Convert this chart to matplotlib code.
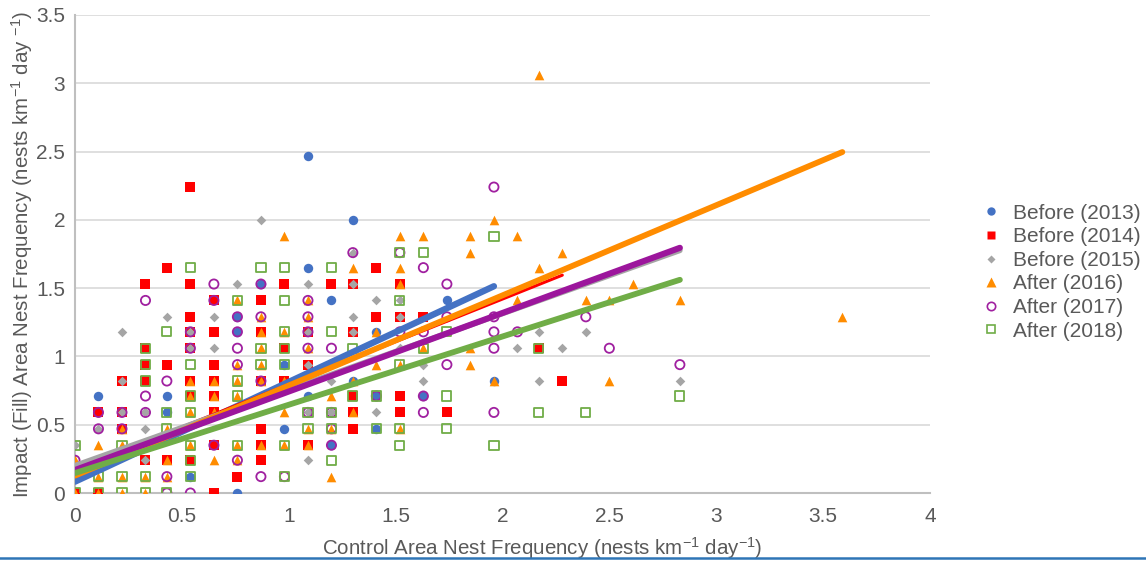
import matplotlib
matplotlib.use('Agg')
import matplotlib.pyplot as plt
from matplotlib.lines import Line2D

plt.rcParams['font.family'] = ['Liberation Sans', 'DejaVu Sans']
plt.rcParams['mathtext.fontset'] = 'custom'
plt.rcParams['mathtext.rm'] = 'Liberation Sans'
plt.rcParams['mathtext.it'] = 'Liberation Sans'

# data (x: control, y: impact), nests km-1 day-1
x_2013 = [0, 0.76, 0.54, 0.98, 0.11, 0.43, 0.11, 0.43, 0.76, 0.76, 0.87, 1.09, 1.09, 1.3, 1.2, 1.74,
          1.41, 0.98, 1.3, 1.09, 1.41, 1.63, 1.41, 1.2, 1.96]
y_2013 = [0.12, 0, 0.12, 0.47, 0.59, 0.59, 0.71, 0.71, 1.18, 1.29, 1.53, 1.65, 2.47, 2.0, 1.41, 1.41,
          1.18, 0.94, 0.82, 0.71, 0.71, 0.71, 0.47, 0.35, 0.82]

x_2014 = [0, 0.11, 0.65, 0.76, 0.33, 0.43, 0.54, 0.87, 0.65, 0.87, 0.22, 0.87, 0.11, 0.22, 0.65,
          0.54, 0.65, 0.22, 0.33, 0.54, 0.65, 0.87, 0.33, 0.43, 0.65, 0.33, 0.54, 0.54, 0.65, 0.87,
          0.54, 0.65, 0.87, 0.33, 0.54, 0.98, 0.43, 0.54, 0.98, 1.09, 0.98, 1.3, 1.52, 1.3, 1.52,
          1.74, 1.3, 1.09, 1.09, 1.3, 1.2, 1.3, 1.52, 1.41, 1.41, 1.52, 1.63, 2.17, 2.28]
y_2014 = [0, 0, 0, 0.12, 0.24, 0.24, 0.24, 0.24, 0.35, 0.35, 0.47, 0.47, 0.59, 0.59, 0.59,
          0.71, 0.71, 0.82, 0.82, 0.82, 0.82, 0.82, 0.94, 0.94, 0.94, 1.06, 1.06, 1.18, 1.18, 1.18,
          1.29, 1.41, 1.41, 1.53, 1.53, 1.53, 1.65, 2.24, 1.06, 0.94, 0.82, 0.71, 0.71, 0.59, 0.59,
          0.59, 0.47, 0.35, 1.18, 1.18, 1.53, 1.53, 1.53, 1.65, 1.29, 1.29, 1.29, 1.06, 0.82]

x_2015 = [0, 0.33, 0.33, 0.11, 0.22, 0.33, 0.22, 0.54, 0.65, 0.22, 0.54, 0.43, 0.65, 0.76, 0.87,
          1.09, 1.3, 1.3, 1.41, 1.52, 1.3, 1.52, 1.09, 1.3, 1.52, 1.09, 1.63, 1.2, 1.63, 1.09,
          1.2, 1.41, 1.09, 2.17, 2.39, 2.07, 2.28, 2.17, 2.83]
y_2015 = [0.35, 0.24, 0.47, 0.47, 0.59, 0.59, 0.82, 1.06, 1.06, 1.18, 1.18, 1.29, 1.29, 1.53, 2.0,
          1.53, 1.53, 1.76, 1.41, 1.41, 1.29, 1.29, 1.18, 1.18, 1.06, 0.94, 0.94, 0.82, 0.82, 0.59,
          0.59, 0.59, 0.24, 1.18, 1.18, 1.06, 1.06, 0.82, 0.82]

x_2016 = [0, 0.11, 0.22, 0.33, 0.11, 0.22, 0.33, 0.43, 0, 0.43, 0.65, 0.76, 0.11, 0.22, 0.54,
          0.76, 0.87, 0.22, 0.43, 0.54, 0.65, 0.54, 0.65, 0.76, 0.54, 0.65, 0.76, 0.87, 0.76, 0.87,
          0.87, 0.87, 0.87, 0.76, 0.98, 1.2, 0.98, 1.09, 1.09, 1.2, 1.52, 0.98, 1.3, 1.2, 0.98,
          1.3, 1.41, 1.52, 1.85, 1.09, 1.63, 1.85, 0.98, 1.41, 1.09, 1.09, 1.52, 1.3, 1.52, 1.52,
          1.63, 1.85, 1.85, 1.96, 2.07, 2.28, 2.17, 2.61, 2.07, 2.39, 2.5, 2.83, 1.96, 2.5, 2.17,
          3.59]
y_2016 = [0, 0, 0, 0, 0.12, 0.12, 0.12, 0.12, 0.24, 0.24, 0.24, 0.24, 0.35, 0.35, 0.35,
          0.35, 0.35, 0.47, 0.47, 0.59, 0.59, 0.71, 0.71, 0.71, 0.82, 0.82, 0.82, 0.82, 0.94, 0.94,
          1.06, 1.18, 1.29, 1.41, 1.88, 0.12, 0.35, 0.35, 0.47, 0.47, 0.47, 0.59, 0.59, 0.71, 0.82,
          0.82, 0.94, 0.94, 0.94, 1.06, 1.06, 1.06, 1.18, 1.18, 1.29, 1.41, 1.53, 1.65, 1.65, 1.88,
          1.88, 1.88, 1.76, 2.0, 1.88, 1.76, 1.65, 1.53, 1.41, 1.41, 1.41, 1.41, 0.82, 0.82, 3.06,
          1.29]

x_2017 = [0, 0.43, 0.54, 0.87, 0.98, 0.43, 0.76, 0.65, 0.11, 0.22, 0.11, 0.22, 0.33, 0.33, 0.43,
          0.87, 0.76, 0.54, 0.76, 0.54, 0.76, 0.76, 0.87, 0.33, 0.65, 0.65, 0.87, 1.09, 1.09, 1.09,
          1.2, 1.09, 1.52, 1.63, 1.74, 1.41, 1.63, 1.09, 1.2, 1.63, 1.2, 1.2, 1.3, 1.52, 1.63,
          1.74, 1.74, 1.96, 1.96, 2.39, 1.96, 2.07, 1.96, 2.5, 2.83, 1.96]
y_2017 = [0.24, 0, 0, 0.12, 0.12, 0.12, 0.24, 0.35, 0.47, 0.47, 0.59, 0.59, 0.59, 0.71, 0.82,
          0.82, 0.94, 1.06, 1.06, 1.18, 1.18, 1.29, 1.29, 1.41, 1.41, 1.53, 1.53, 1.29, 1.41, 1.06,
          1.06, 1.18, 1.18, 1.18, 0.94, 0.71, 0.71, 0.59, 0.59, 0.59, 0.47, 0.35, 1.76, 1.76, 1.65,
          1.53, 1.29, 2.24, 1.29, 1.29, 1.18, 1.18, 1.06, 1.06, 0.94, 0.59]

x_2018 = [0, 0.11, 0.22, 0.33, 0.43, 0.11, 0.22, 0.33, 0.54, 0.98, 0.54, 0, 0.22, 0.54, 0.76,
          0.43, 0.43, 0.54, 0.54, 0.76, 0.76, 0.33, 0.33, 0.54, 0.87, 0.33, 0.87, 0.43, 0.76, 0.98,
          0.54, 0.87, 0.98, 1.2, 1.52, 1.63, 0.98, 1.2, 1.74, 0.98, 1.3, 1.63, 0.98, 1.52, 1.3,
          1.41, 1.74, 1.09, 1.2, 1.09, 1.2, 1.41, 1.52, 1.74, 0.98, 1.52, 1.2, 1.52, 1.96, 2.17,
          2.83, 2.17, 2.39, 1.96]
y_2018 = [0, 0, 0, 0, 0, 0.12, 0.12, 0.12, 0.12, 0.12, 0.24, 0.35, 0.35, 0.35, 0.35,
          0.47, 0.59, 0.59, 0.71, 0.71, 0.82, 0.82, 0.94, 0.94, 0.94, 1.06, 1.06, 1.18, 1.41, 1.41,
          1.65, 1.65, 1.65, 1.65, 1.76, 1.76, 1.18, 1.18, 1.18, 1.06, 1.06, 1.06, 0.94, 0.94, 0.71,
          0.71, 0.71, 0.59, 0.59, 0.47, 0.47, 0.47, 0.47, 0.47, 0.35, 0.35, 0.24, 1.41, 1.88, 1.06,
          0.71, 0.59, 0.59, 0.35]

# linear trendlines as drawn (intercept, slope)
trend_b0 = [0.083, 0.17, 0.20, 0.127, 0.168, 0.146]
trend_b1 = [0.73, 0.625, 0.557, 0.66, 0.575, 0.50]

labels = ['Before (2013)', 'Before (2014)', 'Before (2015)', 'After (2016)', 'After (2017)', 'After (2018)']
colors = ['#4472C4', '#FF0000', '#A5A5A5', '#FF8C00', '#A020A0', '#70AD47']
line_colors = ['#4472C4', '#FF0000', '#A5A5A5', '#FF8C00', '#9C169C', '#70AD47']
line_widths = [4.6, 2.2, 4.0, 4.2, 4.4, 4.2]

xs = [x_2013, x_2014, x_2015, x_2016, x_2017, x_2018]
ys = [y_2013, y_2014, y_2015, y_2016, y_2017, y_2018]

fig = plt.figure(figsize=(11.46, 5.61), dpi=100)
ax = fig.add_axes([0.0654, 0.1212, 0.7461, 0.8521])

ax.scatter(x_2013, y_2013, marker='o', s=46, color=colors[0], linewidths=0, zorder=3)
ax.scatter(x_2014, y_2014, marker='s', s=44, color=colors[1], linewidths=0, zorder=3)
ax.scatter(x_2015, y_2015, marker='D', s=24, color=colors[2], linewidths=0, zorder=3)
ax.scatter(x_2016, y_2016, marker='^', s=48, color=colors[3], linewidths=0, zorder=3)
ax.scatter(x_2017, y_2017, marker='o', s=44, facecolors='none', edgecolors=colors[4], linewidths=1.3, zorder=3)
ax.scatter(x_2018, y_2018, marker='s', s=44, facecolors='none', edgecolors=colors[5], linewidths=1.3, zorder=3)

for k in range(6):
    x0 = min(xs[k])
    x1 = max(xs[k])
    ax.plot([x0, x1], [trend_b0[k] + trend_b1[k] * x0, trend_b0[k] + trend_b1[k] * x1],
            color=line_colors[k], lw=line_widths[k], solid_capstyle='round', zorder=4)

ax.set_xlim(0, 4)
ax.set_ylim(0, 3.5)
ax.set_xticks([0, 0.5, 1, 1.5, 2, 2.5, 3, 3.5, 4])
ax.set_xticklabels(['0', '0.5', '1', '1.5', '2', '2.5', '3', '3.5', '4'])
ax.set_yticks([0, 0.5, 1, 1.5, 2, 2.5, 3, 3.5])
ax.set_yticklabels(['0', '0.5', '1', '1.5', '2', '2.5', '3', '3.5'])
ax.tick_params(length=0, labelsize=15, labelcolor='#595959')
ax.tick_params(axis='x', pad=10)
ax.tick_params(axis='y', pad=7)
ax.grid(axis='y', color='#d9d9d9', lw=1.2)
ax.set_axisbelow(True)
for s in ['top', 'right']:
    ax.spines[s].set_visible(False)
ax.spines['left'].set_color('#bfbfbf')
ax.spines['left'].set_linewidth(1.5)
ax.spines['bottom'].set_color('#bfbfbf')
ax.spines['bottom'].set_linewidth(1.5)

ax.set_xlabel('Control Area Nest Frequency (nests km$^{-1}$ day$^{-1}$)', fontsize=14.8, color='#595959')
ax.set_ylabel('Impact (Fill) Area Nest Frequency (nests km$^{-1}$ day $^{-1}$)', fontsize=14.8, color='#595959')
ax.xaxis.set_label_coords(0.546, -0.115)
ax.xaxis.label.set_verticalalignment('center')
ax.yaxis.set_label_coords(-0.062, 0.5)
ax.yaxis.label.set_verticalalignment('center')

handles = [
    Line2D([], [], ls='none', marker='o', ms=6, color=colors[0], mec='none'),
    Line2D([], [], ls='none', marker='s', ms=6, color=colors[1], mec='none'),
    Line2D([], [], ls='none', marker='D', ms=4.5, color=colors[2], mec='none'),
    Line2D([], [], ls='none', marker='^', ms=6.5, color=colors[3], mec='none'),
    Line2D([], [], ls='none', marker='o', ms=6, mfc='none', mec=colors[4], mew=1.2),
    Line2D([], [], ls='none', marker='s', ms=6, mfc='none', mec=colors[5], mew=1.2),
]
fig.legend(handles, labels, loc='center left', bbox_to_anchor=(0.852, 0.515), frameon=False,
           fontsize=15, labelcolor='#595959', handlelength=0.6, handletextpad=0.75,
           labelspacing=0.22, borderaxespad=0)

fig.add_artist(Line2D([0, 1], [0.0045, 0.0045], transform=fig.transFigure, color='#2E75B6', lw=1.8))

fig.savefig('out.png', dpi=100)
